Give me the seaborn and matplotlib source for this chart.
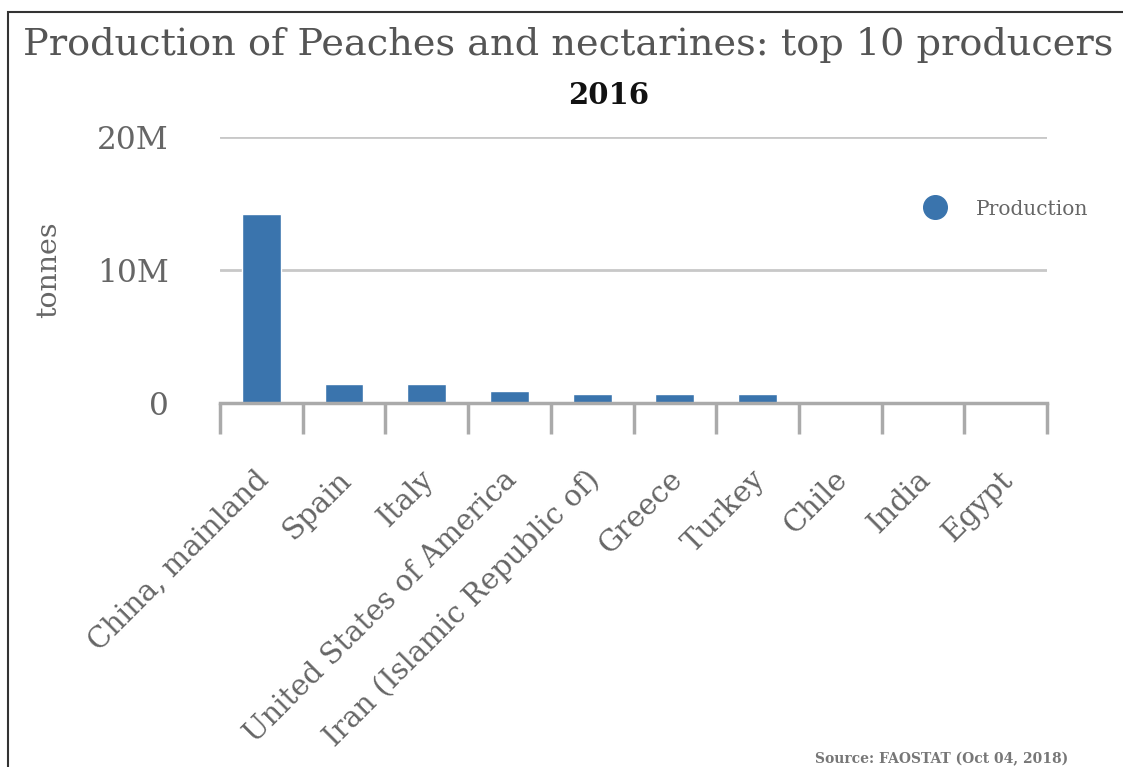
import matplotlib
matplotlib.use("Agg")
import matplotlib.pyplot as plt
import matplotlib.transforms as mtransforms
import seaborn as sns
import pandas as pd
from matplotlib.lines import Line2D
from matplotlib.patches import Rectangle

countries = ["China, mainland", "Spain", "Italy", "United States of America",
             "Iran (Islamic Republic of)", "Greece", "Turkey", "Chile", "India", "Egypt"]
production = [14.2e6, 1.42e6, 1.42e6, 0.92e6, 0.70e6, 0.70e6, 0.70e6, 0.0, 0.0, 0.0]
yticks = [0, 10e6, 20e6]
ytick_labels = ["0", "10M", "20M"]

sns.set_theme(style="white")
plt.rcParams['font.family'] = ['DejaVu Serif', 'DejaVu Sans']

df = pd.DataFrame({"country": countries, "production": production})

fig = plt.figure(figsize=(11.23, 7.67), dpi=100)
ax = fig.add_axes([220/1123, 1-403/767, (1047-220)/1123, (403-137)/767])

sns.barplot(data=df, x="country", y="production", color="#3a74ad", width=0.47,
            saturation=1, ax=ax, zorder=3)

ax.set_xlim(-0.5, 9.5)
ax.set_ylim(0, 20e6)
ax.set_yticks(yticks)
ax.set_yticklabels(ytick_labels, color="#666666", fontsize=22.5)
ax.tick_params(axis="y", length=0, pad=37)
for v in yticks[1:]:
    ax.axhline(v, color="#c8c8c8", lw=2, zorder=1)

ax.set_xticks(range(len(countries)))
ax.set_xticklabels(countries, rotation=45, ha="right", rotation_mode="anchor",
                   color="#666666", fontsize=21)
ax.tick_params(axis="x", which="major", length=0, pad=45)
ax.set_xticks([i - 0.5 for i in range(len(countries) + 1)], minor=True)
ax.tick_params(axis="x", which="minor", bottom=True, length=22, width=2.5,
               color="#aaaaaa", direction="out")
offset = mtransforms.ScaledTranslation(-7/100, 0, fig.dpi_scale_trans)
for lbl in ax.get_xticklabels():
    lbl.set_transform(lbl.get_transform() + offset)

for s in ["top", "right", "left"]:
    ax.spines[s].set_visible(False)
ax.spines["bottom"].set_color("#aaaaaa")
ax.spines["bottom"].set_linewidth(2.5)
ax.spines["bottom"].set_zorder(4)

ax.set_xlabel("")
ax.set_ylabel("tonnes", color="#666666", fontsize=20.5)
ax.yaxis.set_label_coords(-158/827, 0.5)

handle = Line2D([0], [0], marker="o", color="none", markerfacecolor="#3a74ad",
                markeredgecolor="#3a74ad", markersize=17)
leg = ax.legend([handle], ["Production"], loc="center left",
                bbox_to_anchor=(905/827 - 220/827, (403-209)/266), frameon=False,
                prop={"size": 14.5}, handletextpad=1.4, handlelength=1.2)
for t in leg.get_texts():
    t.set_color("#666666")

fig.text(568/1123, 1-45/767, "Production of Peaches and nectarines: top 10 producers",
         ha="center", va="center", fontsize=27.5, color="#555555")
fig.text(609/1123, 1-95/767, "2016", ha="center", va="center", fontsize=21,
         fontweight="bold", color="#111111")
fig.text(1068/1123, 1-759/767, "Source: FAOSTAT (Oct 04, 2018)", ha="right", va="center",
         fontsize=10, fontweight="bold", color="#777777")

fig.patches.append(Rectangle((8/1123, -0.1), 1.2, 1 - 12/767 + 0.1, transform=fig.transFigure,
                             fill=False, edgecolor="#333333", lw=1.5, zorder=0))

fig.savefig("out.png", dpi=100)
